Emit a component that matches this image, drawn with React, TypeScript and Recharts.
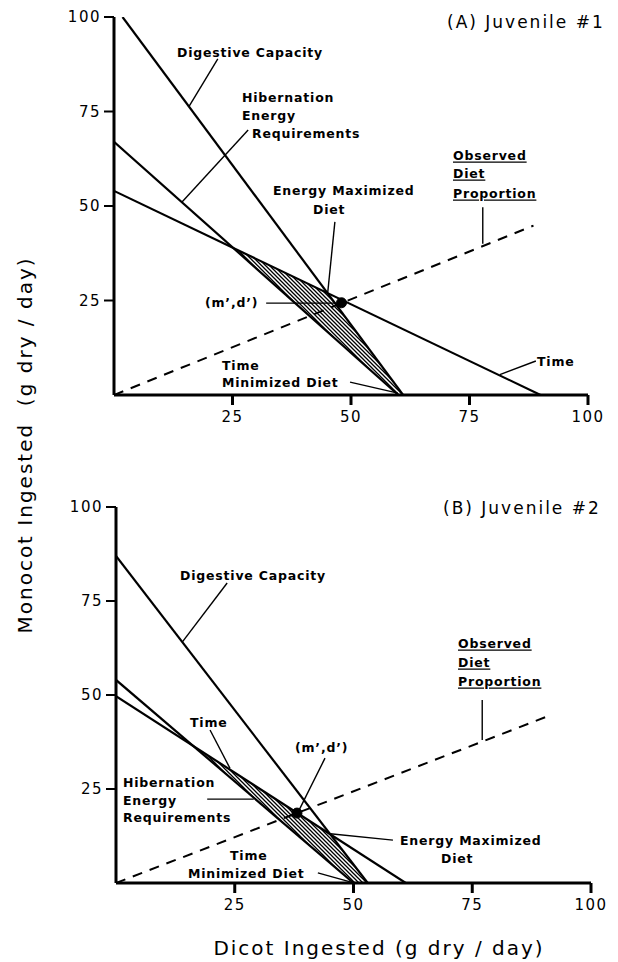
import React from 'react';
import { ComposedChart, Line, Area, XAxis, YAxis, ReferenceLine, ReferenceDot } from 'recharts';

// ---------- shared ----------
const axisTicks = [25, 50, 75, 100];

// ---------- Panel A : Juvenile #1 ----------
const digestiveA = [{ x: 1.8, y: 100 }, { x: 61, y: 0 }];
const energyA = [{ x: 0, y: 67 }, { x: 60, y: 0 }];
const timeA = [{ x: 0, y: 54 }, { x: 90, y: 0 }];
const observedA = [{ x: 0, y: 0 }, { x: 88.5, y: 44.8 }];
const optimumA = { x: 48, y: 24.4 };
const feasibleA = [
  { x: 25.2, range: [38.9, 38.9] },
  { x: 45, range: [16.75, 27] },
  { x: 60, range: [0, 1.66] },
  { x: 61, range: [0, 0] },
];
const leadersA = [
  [{ x: 21.9, y: 88.9 }, { x: 15.8, y: 76.3 }],
  [{ x: 28.3, y: 70.1 }, { x: 14.3, y: 51 }],
  [{ x: 46.6, y: 45.8 }, { x: 45.1, y: 27.2 }],
  [{ x: 32.1, y: 24.3 }, { x: 47, y: 24.3 }],
  [{ x: 49.8, y: 3.4 }, { x: 59.9, y: 0.5 }],
  [{ x: 89, y: 9 }, { x: 81.4, y: 5.4 }],
  [{ x: 77.8, y: 49.7 }, { x: 77.8, y: 40 }],
];

// ---------- Panel B : Juvenile #2 ----------
const digestiveB = [{ x: 0, y: 87 }, { x: 53, y: 0 }];
const energyB = [{ x: 0, y: 54 }, { x: 50, y: 0 }];
const timeB = [{ x: 0, y: 49.7 }, { x: 61, y: 0 }];
const observedB = [{ x: 0, y: 0 }, { x: 91, y: 44.4 }];
const optimumB = { x: 38.1, y: 18.6 };
const feasibleB = [
  { x: 16.2, range: [36.5, 36.5] },
  { x: 45.1, range: [5.3, 12.9] },
  { x: 50, range: [0, 4.9] },
  { x: 53, range: [0, 0] },
];
const leadersB = [
  [{ x: 23.4, y: 79.8 }, { x: 13.9, y: 64 }],
  [{ x: 19.8, y: 40.7 }, { x: 24, y: 30.5 }],
  [{ x: 19.2, y: 22.3 }, { x: 29, y: 22.3 }],
  [{ x: 44, y: 33.2 }, { x: 38.3, y: 18.8 }],
  [{ x: 58.3, y: 11.4 }, { x: 45.1, y: 13.1 }],
  [{ x: 42.5, y: 2.7 }, { x: 49.3, y: 0.3 }],
  [{ x: 77.1, y: 48.7 }, { x: 77.1, y: 38 }],
];

const FONT = '"DejaVu Sans", Verdana, sans-serif';
const tickStyle = { fill: '#000', fontSize: 15, fontFamily: FONT, letterSpacing: 1.5 };

type Pt = { x: number; y: number };

function Panel(props: {
  top: number;
  height: number;
  margin: { top: number; right: number; bottom: number; left: number };
  digestive: Pt[];
  energy: Pt[];
  time: Pt[];
  observed: Pt[];
  optimum: Pt;
  feasible: { x: number; range: number[] }[];
  leaders: Pt[][];
}) {
  const { top, height, margin } = props;
  return (
    <div style={{ position: 'absolute', left: 0, top, width: 618, height }}>
      <ComposedChart width={618} height={height} data={props.feasible} margin={margin}>
        <XAxis
          type="number"
          dataKey="x"
          domain={[0, 100]}
          allowDataOverflow
          ticks={axisTicks}
          height={30}
          tickSize={10}
          tickMargin={6}
          axisLine={{ stroke: '#000', strokeWidth: 3 }}
          tickLine={{ stroke: '#000', strokeWidth: 3 }}
          tick={tickStyle}
          interval={0}
        />
        <YAxis
          type="number"
          domain={[0, 100]}
          allowDataOverflow
          ticks={axisTicks}
          width={50}
          tickSize={10}
          tickMargin={3}
          axisLine={{ stroke: '#000', strokeWidth: 3 }}
          tickLine={{ stroke: '#000', strokeWidth: 2 }}
          tick={tickStyle}
          interval={0}
        />
        <Area
          type="linear"
          dataKey="range"
          stroke="none"
          fill="url(#hatch)"
          fillOpacity={1}
          isAnimationActive={false}
          dot={false}
          activeDot={false}
        />
        <Line data={props.digestive} dataKey="y" type="linear" stroke="#000" strokeWidth={2.2} dot={false} isAnimationActive={false} />
        <Line data={props.energy} dataKey="y" type="linear" stroke="#000" strokeWidth={2.2} dot={false} isAnimationActive={false} />
        <Line data={props.time} dataKey="y" type="linear" stroke="#000" strokeWidth={2.2} dot={false} isAnimationActive={false} />
        <Line data={props.observed} dataKey="y" type="linear" stroke="#000" strokeWidth={2} strokeDasharray="10 8" dot={false} isAnimationActive={false} />
        {props.leaders.map((seg, i) => (
          <ReferenceLine key={i} segment={seg as any} stroke="#000" strokeWidth={1.4} ifOverflow="visible" />
        ))}
        <ReferenceDot x={props.optimum.x} y={props.optimum.y} r={5} fill="#000" stroke="#000" ifOverflow="visible" />
      </ComposedChart>
    </div>
  );
}

const ann = { fontFamily: FONT, fontWeight: 700, fontSize: 12.5, letterSpacing: 0.8, fill: '#000' } as const;
const under = { ...ann, textDecoration: 'underline' } as const;
const title = { fontFamily: FONT, fontSize: 17, letterSpacing: 2, fill: '#000' } as const;
const axisTitle = { fontFamily: FONT, fontSize: 20, letterSpacing: 2, fill: '#000' } as const;

function T(p: { x: number; y: number; s: any; children: React.ReactNode; anchor?: string }) {
  return (
    <text x={p.x} y={p.y} dominantBaseline="central" textAnchor={(p.anchor as any) || 'start'} style={p.s}>
      {p.children}
    </text>
  );
}

export default function App() {
  return (
    <div style={{ position: 'absolute', left: 0, top: 0, width: 618, height: 962, background: '#fff', overflow: 'hidden' }}>
      <svg width={0} height={0} style={{ position: 'absolute' }}>
        <defs>
          <pattern id="hatch" patternUnits="userSpaceOnUse" width={4} height={4}>
            <path d="M0,0 L4,4 M-1,3 L1,5 M3,-1 L5,1" stroke="#000" strokeWidth={1.3} />
          </pattern>
        </defs>
      </svg>
      <Panel
        top={0}
        height={430}
        margin={{ top: 17, right: 30, bottom: 5, left: 64 }}
        digestive={digestiveA}
        energy={energyA}
        time={timeA}
        observed={observedA}
        optimum={optimumA}
        feasible={feasibleA}
        leaders={leadersA}
      />
      <Panel
        top={440}
        height={480}
        margin={{ top: 67, right: 27, bottom: 7, left: 66 }}
        digestive={digestiveB}
        energy={energyB}
        time={timeB}
        observed={observedB}
        optimum={optimumB}
        feasible={feasibleB}
        leaders={leadersB}
      />
      <svg width={618} height={962} style={{ position: 'absolute', left: 0, top: 0, pointerEvents: 'none' }}>
        {/* Panel A annotations */}
        <T x={447} y={22} s={title}>(A) Juvenile #1</T>
        <T x={177} y={52} s={ann}>Digestive Capacity</T>
        <T x={242} y={97} s={ann}>Hibernation</T>
        <T x={242} y={115} s={ann}>Energy</T>
        <T x={252} y={133} s={ann}>Requirements</T>
        <T x={273} y={190} s={ann}>Energy Maximized</T>
        <T x={313} y={209} s={ann}>Diet</T>
        <T x={205} y={302} s={ann}>(m’,d’)</T>
        <T x={222} y={365} s={ann}>Time</T>
        <T x={222} y={382} s={ann}>Minimized Diet</T>
        <T x={537} y={361} s={ann}>Time</T>
        <T x={453} y={155} s={under}>Observed</T>
        <T x={453} y={173} s={under}>Diet</T>
        <T x={453} y={193} s={under}>Proportion</T>
        {/* Panel B annotations */}
        <T x={443} y={508} s={title}>(B) Juvenile #2</T>
        <T x={180} y={575} s={ann}>Digestive Capacity</T>
        <T x={190} y={722} s={ann}>Time</T>
        <T x={123} y={782} s={ann}>Hibernation</T>
        <T x={123} y={800} s={ann}>Energy</T>
        <T x={123} y={817} s={ann}>Requirements</T>
        <T x={295} y={747} s={ann}>(m’,d’)</T>
        <T x={400} y={840} s={ann}>Energy Maximized</T>
        <T x={441} y={858} s={ann}>Diet</T>
        <T x={230} y={855} s={ann}>Time</T>
        <T x={188} y={873} s={ann}>Minimized Diet</T>
        <T x={458} y={643} s={under}>Observed</T>
        <T x={458} y={662} s={under}>Diet</T>
        <T x={458} y={681} s={under}>Proportion</T>
        {/* Axis titles */}
        <T x={379} y={948} s={axisTitle} anchor="middle">Dicot Ingested (g dry / day)</T>
        <text
          x={0}
          y={0}
          transform="translate(25,445) rotate(-90)"
          dominantBaseline="central"
          textAnchor="middle"
          style={axisTitle}
        >
          {'Monocot Ingested\u00a0\u00a0(g dry / day)'}
        </text>
      </svg>
    </div>
  );
}
